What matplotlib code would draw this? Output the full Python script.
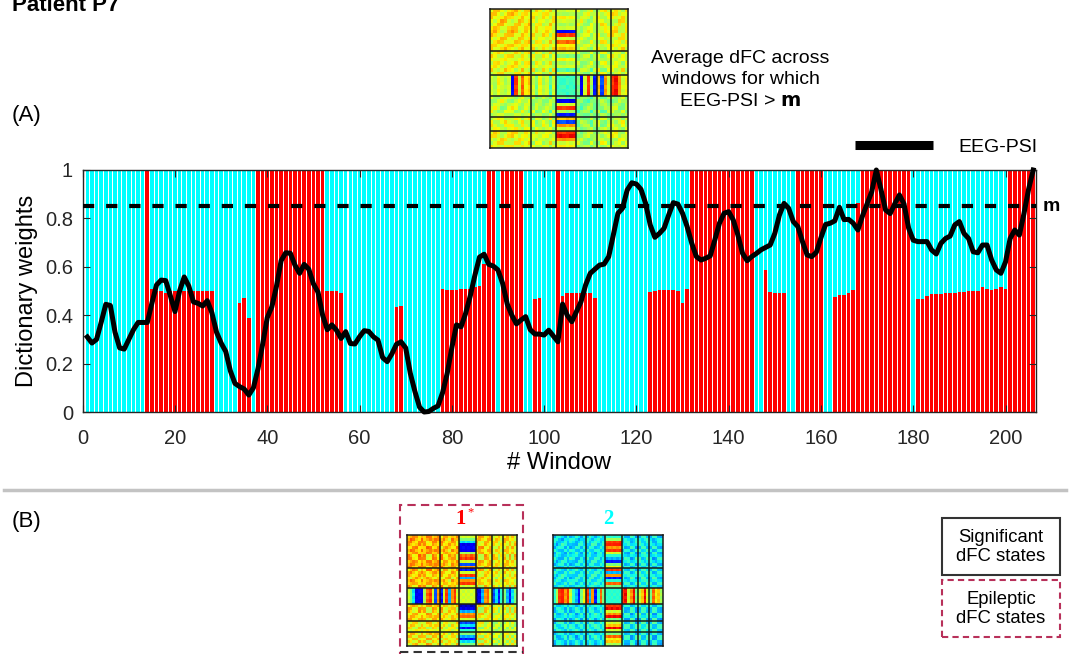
import numpy as np
import matplotlib.pyplot as plt
from matplotlib.lines import Line2D
from matplotlib.patches import Rectangle

plt.rcParams['font.family'] = ['Liberation Sans', 'DejaVu Sans']

W, H = 1073, 654

# weight of dFC state 1 (red) for each window; state 2 (cyan) takes the rest
state1 = [0, 0, 0, 0, 0, 0, 0, 0, 0, 0,
          0, 0, 0, 1.0, 0.51, 0.50, 0.50, 0.49, 0.50, 0.50,
          0.50, 0.50, 0.50, 0.50, 0.50, 0.50, 0.50, 0.50, 0, 0,
          0, 0, 0, 0.45, 0.47, 0.39, 0, 1.0, 1.0, 1.0,
          1.0, 1.0, 1.0, 1.0, 1.0, 1.0, 1.0, 1.0, 1.0, 1.0,
          1.0, 1.0, 0.50, 0.50, 0.50, 0.49, 0, 0, 0, 0,
          0, 0, 0, 0, 0, 0, 0, 0.435, 0.44, 0,
          0, 0, 0, 0, 0, 0, 0, 0.51, 0.505, 0.505,
          0.505, 0.51, 0.51, 0.51, 0.515, 0.52, 0.61, 1.0, 1.0, 0,
          1.0, 1.0, 1.0, 1.0, 1.0, 0, 0, 0.465, 0.47, 0,
          0, 0, 1.0, 0.48, 0.49, 0.49, 0.49, 0.49, 0.49, 0.49,
          0.47, 0, 0, 0, 0, 0, 0, 0, 0, 0,
          0, 0, 0.495, 0.50, 0.505, 0.505, 0.505, 0.505, 0.50, 0.45,
          0.51, 1.0, 1.0, 1.0, 1.0, 1.0, 1.0, 1.0, 1.0, 1.0,
          1.0, 1.0, 1.0, 1.0, 1.0, 0, 0, 0.585, 0.495, 0.49,
          0.49, 0.49, 0, 0, 1.0, 1.0, 1.0, 1.0, 1.0, 1.0,
          0, 0, 0.475, 0.485, 0.485, 0.49, 0.505, 0.865, 1.0, 1.0,
          1.0, 1.0, 1.0, 1.0, 1.0, 1.0, 1.0, 1.0, 1.0, 0,
          0.465, 0.465, 0.48, 0.487, 0.487, 0.487, 0.49, 0.49, 0.49, 0.495,
          0.497, 0.50, 0.50, 0.50, 0.515, 0.508, 0.505, 0.508, 0.515, 0.508,
          1.0, 1.0, 1.0, 1.0, 1.0, 1.0]

# EEG-PSI per window (normalised)
eeg_psi = [0.31, 0.285, 0.30, 0.37, 0.445, 0.44, 0.33, 0.265, 0.26, 0.30,
           0.34, 0.37, 0.37, 0.37, 0.45, 0.525, 0.545, 0.543, 0.48, 0.415,
           0.50, 0.558, 0.52, 0.455, 0.449, 0.438, 0.46, 0.41, 0.33, 0.285,
           0.25, 0.17, 0.118, 0.105, 0.095, 0.07, 0.10, 0.18, 0.28, 0.39,
           0.435, 0.52, 0.625, 0.658, 0.656, 0.607, 0.573, 0.61, 0.59, 0.53,
           0.495, 0.40, 0.34, 0.36, 0.338, 0.304, 0.332, 0.283, 0.281, 0.311,
           0.336, 0.333, 0.311, 0.297, 0.225, 0.208, 0.24, 0.28, 0.29, 0.265,
           0.16, 0.085, 0.02, 0.0, 0.002, 0.015, 0.025, 0.08, 0.16, 0.265,
           0.36, 0.352, 0.408, 0.48, 0.565, 0.64, 0.652, 0.61, 0.603, 0.587,
           0.532, 0.447, 0.40, 0.364, 0.38, 0.394, 0.34, 0.322, 0.322, 0.318,
           0.338, 0.314, 0.29, 0.446, 0.40, 0.373, 0.414, 0.456, 0.525, 0.573,
           0.59, 0.607, 0.611, 0.642, 0.731, 0.821, 0.842, 0.917, 0.947, 0.942,
           0.92, 0.862, 0.773, 0.722, 0.738, 0.759, 0.814, 0.865, 0.859, 0.821,
           0.766, 0.697, 0.642, 0.628, 0.635, 0.645, 0.711, 0.78, 0.821, 0.828,
           0.793, 0.731, 0.656, 0.625, 0.642, 0.655, 0.67, 0.68, 0.69, 0.738,
           0.814, 0.862, 0.842, 0.787, 0.766, 0.704, 0.649, 0.642, 0.66, 0.72,
           0.775, 0.78, 0.79, 0.846, 0.795, 0.796, 0.78, 0.752, 0.81, 0.86,
           0.91, 1.0, 0.92, 0.835, 0.82, 0.86, 0.897, 0.86, 0.76, 0.71,
           0.704, 0.704, 0.704, 0.669, 0.653, 0.697, 0.717, 0.727, 0.773, 0.787,
           0.738, 0.717, 0.662, 0.658, 0.69, 0.69, 0.628, 0.587, 0.573, 0.62,
           0.717, 0.752, 0.731, 0.82, 0.92, 1.0]

m_thr = 0.85
x_ticks = [0, 20, 40, 60, 80, 100, 120, 140, 160, 180, 200]
y_ticks = [0, 0.2, 0.4, 0.6, 0.8, 1]
y_ticklabels = ['0', '0.2', '0.4', '0.6', '0.8', '1']

# dFC matrices (colour level 0..1 on jet): network boundaries, network levels,
# each node's coupling to network 3 and two node-wise texture profiles
net_bounds = [0, 12, 19, 25, 31, 35, 40]

avg_blocks = [0.66, 0.6, 0.42, 0.5, 0.56, 0.6]
avg_hub = [0.6, 0.55, 0.65, 0.6, 0.55, 0.6, 0.12, 0.85, 0.6, 0.8, 0.65, 0.7,
           0.6, 0.5, 0.65, 0.55, 0.6, 0.45, 0.6,
           0.42, 0.4, 0.45, 0.42, 0.4, 0.42,
           0.5, 0.1, 0.6, 0.85, 0.55, 0.15,
           0.7, 0.2, 0.75, 0.6,
           0.85, 0.9, 0.75, 0.6, 0.65]
avg_ta = [0.9, 0.4, -0.6, -1, 0.2, 0.8, 1, -0.3, -0.8, 0.5, 0.1, -0.9,
          0.7, -0.2, -0.5, 0.9, 0.6, -1, 0.3,
          -0.4, 0.6, 0.2, -0.7, 0.5, -0.1,
          -0.8, -0.3, 0.7, 1, -0.6, 0.2,
          0.5, -1, -0.4, 0.8,
          1, 0.3, -0.7, 0.4, -0.2]
avg_tb = [-0.3, 0.8, 0.5, -0.6, -1, 0.2, 0.7, 0.9, -0.4, -0.8, 0.6, 0.3,
          -0.7, 1, 0.1, -0.5, 0.4, 0.8, -0.9,
          0.5, -0.3, -0.8, 0.6, 0.2, 0.9,
          0.4, -0.9, -0.2, 0.6, 1, -0.5,
          -0.7, 0.3, 0.9, -0.1,
          0.2, 0.8, -0.5, -1, 0.6]

s1_blocks = [0.72, 0.68, 0.6, 0.64, 0.56, 0.6]
s1_hub = [0.6, 0.5, 0.35, 0.1, 0.12, 0.1, 0.55, 0.8, 0.85, 0.6, 0.2, 0.75,
          0.15, 0.6, 0.85, 0.3, 0.75, 0.85, 0.6,
          0.62, 0.6, 0.62, 0.6, 0.62, 0.6,
          0.05, 0.1, 0.3, 0.75, 0.8, 0.6,
          0.2, 0.35, 0.15, 0.4,
          0.5, 0.3, 0.15, 0.35, 0.5]
s1_ta = [0.6, 1, -0.2, -0.8, 0.4, 0.9, 0.3, -1, -0.5, 0.7, 0.8, -0.3,
         1, 0.2, -0.7, -0.4, 0.9, 0.5, -0.9,
         0.3, -0.5, 0.6, -0.2, 0.4, -0.6,
         0.8, -0.6, -1, 0.4, 0.7, -0.2,
         0.5, 0.9, -0.6, -0.3,
         1, -0.4, 0.6, -0.8, 0.2]
s1_tb = [-0.4, 0.6, 0.9, 0.2, -0.9, 0.5, -0.6, 0.7, 1, -0.3, 0.4, 0.8,
         -0.5, 0.9, 0.3, -1, 0.6, -0.2, 0.7,
         -0.4, 0.6, -0.3, 0.5, -0.6, 0.2,
         -0.2, 1, 0.5, -0.8, 0.3, 0.9,
         -0.7, 0.4, 0.8, -0.5,
         0.3, 0.9, -0.6, 0.5, -1]

s2_blocks = [0.35, 0.38, 0.4, 0.36, 0.4, 0.35]
s2_hub = [0.4, 0.55, 0.85, 0.88, 0.75, 0.85, 0.6, 0.4, 0.3, 0.15, 0.5, 0.65,
          0.85, 0.3, 0.75, 0.15, 0.4, 0.8, 0.5,
          0.4, 0.38, 0.4, 0.42, 0.4, 0.38,
          0.85, 0.9, 0.6, 0.75, 0.9, 0.5,
          0.6, 0.7, 0.9, 0.6,
          0.5, 0.8, 0.65, 0.7, 0.55]
s2_ta = [-0.8, -0.3, 0.6, 1, -0.5, 0.2, -1, -0.6, 0.4, 0.9, -0.2, 0.5,
         -0.9, 0.3, 0.8, -0.4, -0.7, 0.6, 0.1,
         0.5, -0.4, 0.3, -0.6, 0.4, -0.5,
         0.6, -0.8, -0.3, 0.9, 0.4, -1,
         -0.5, 0.7, 0.2, -0.9,
         -0.3, 1, 0.5, -0.6, -0.8]
s2_tb = [0.5, -0.9, -0.4, 0.6, 0.8, -0.7, 0.3, -0.2, -1, 0.4, 0.9, -0.5,
         0.2, -0.8, 0.6, 1, -0.3, -0.6, 0.7,
         -0.5, 0.3, -0.6, 0.4, -0.2, 0.6,
         -0.4, 0.5, 0.9, -0.7, -0.2, 0.8,
         1, -0.4, -0.8, 0.3,
         0.7, -0.5, -0.9, 0.4, 0.6]


def dfc_matrix(blocks, hub, ta, tb, amp):
    n = net_bounds[-1]
    net = np.zeros(n, dtype=int)
    for b in range(len(net_bounds) - 1):
        net[net_bounds[b]:net_bounds[b + 1]] = b
    blocks = np.asarray(blocks)
    hub = np.asarray(hub)
    ta = np.asarray(ta)
    tb = np.asarray(tb)
    speck = (np.outer(ta, tb) + np.outer(tb, ta)) / 2
    mat = (blocks[net][:, None] + blocks[net][None, :]) / 2 + amp * speck
    in3 = net == 2
    mat[:, in3] = hub[:, None] + 0.35 * amp * speck[:, in3]
    mat[in3, :] = hub[None, :] + 0.35 * amp * speck[in3, :]
    mat[np.ix_(in3, in3)] = blocks[2] + 0.5 * amp * speck[np.ix_(in3, in3)]
    return np.clip(mat, 0, 1)


def draw_matrix(rect, mat):
    mx = fig.add_axes([rect[0] / W, 1 - (rect[1] + rect[3]) / H, rect[2] / W, rect[3] / H])
    mx.imshow(mat, cmap='jet', vmin=0, vmax=1, interpolation='nearest', aspect='auto')
    for b in net_bounds[1:-1]:
        mx.axhline(b - 0.5, color='#1a1a1a', lw=1.1)
        mx.axvline(b - 0.5, color='#1a1a1a', lw=1.1)
    mx.set_xticks([])
    mx.set_yticks([])
    for s in mx.spines.values():
        s.set_linewidth(1.1)
        s.set_color('#1a1a1a')
    return mx


fig = plt.figure(figsize=(W / 100, H / 100), dpi=100)

# ---- panel A: dictionary weights per window
x0, x1, ytop, ybot = 82.7, 1035.5, 170, 412
ax = fig.add_axes([x0 / W, 1 - ybot / H, (x1 - x0) / W, (ybot - ytop) / H])
windows = np.arange(1, len(state1) + 1)
s1 = np.array(state1)
ax.bar(windows, s1, width=0.78, color='#ff0000', linewidth=0)
ax.bar(windows, 1 - s1, bottom=s1, width=0.78, color='#00ffff', linewidth=0)
psi_line, = ax.plot(windows, eeg_psi, color='black', lw=3.6, label='EEG-PSI',
                    solid_joinstyle='round', clip_on=False, zorder=5)
ax.axhline(m_thr, color='black', lw=3.0, dashes=(2.7, 2.85), zorder=4)
ax.text(1.007, m_thr, 'm', transform=ax.get_yaxis_transform(), fontsize=14,
        fontweight='bold', va='center', ha='left')

ax.set_xlim(0, 206.5)
ax.set_ylim(0, 1)
ax.set_xticks(x_ticks)
ax.set_yticks(y_ticks)
ax.set_yticklabels(y_ticklabels)
ax.tick_params(direction='in', top=True, right=True, labelsize=14.5, length=5,
               width=0.8, colors='#262626', labelcolor='#262626')
ax.tick_params(axis='x', pad=12)
ax.tick_params(axis='y', pad=7)
for s in ax.spines.values():
    s.set_linewidth(1.0)
    s.set_color('#262626')
ax.set_xlabel('# Window', fontsize=17, labelpad=3)
ax.set_ylabel('Dictionary weights', fontsize=17, labelpad=5)

leg = ax.legend(handles=[psi_line], loc='center right',
                bbox_to_anchor=(1045 / W, 1 - 147 / H), bbox_transform=fig.transFigure,
                frameon=False, fontsize=14, handlelength=4.0, handletextpad=1.3,
                borderaxespad=0)
leg.get_lines()[0].set_linewidth(6.5)
leg.get_lines()[0].set_solid_capstyle('butt')

# ---- titles and annotations
fig.text(12 / W, 1 - 11 / H, 'Patient P7', fontsize=16, fontweight='bold', va='baseline')
fig.text(12 / W, 1 - 116 / H, '(A)', fontsize=16, va='center')
fig.text(12 / W, 1 - 521 / H, '(B)', fontsize=16, va='center')
fig.text(740 / W, 1 - 80 / H, 'Average dFC across\nwindows for which\nEEG-PSI > $\\mathbf{m}$',
         fontsize=14, ha='center', va='center', linespacing=1.32)

draw_matrix((490, 9, 138, 139), dfc_matrix(avg_blocks, avg_hub, avg_ta, avg_tb, 0.15))

fig.add_artist(Line2D([4 / W, 1066 / W], [1 - 490 / H] * 2, color='#c3c3c3', lw=2.5))

# ---- panel B: dFC states
draw_matrix((407, 535, 110, 111), dfc_matrix(s1_blocks, s1_hub, s1_ta, s1_tb, 0.17))
draw_matrix((553, 535, 110, 111), dfc_matrix(s2_blocks, s2_hub, s2_ta, s2_tb, 0.15))

epi = '#b8305a'
fig.add_artist(Rectangle((400 / W, -0.05), 123 / W, 1 - 505 / H + 0.05, fill=False,
                         ec=epi, lw=1.5, ls=(0, (4, 2.5))))
fig.add_artist(Line2D([400 / W, 523 / W], [1 - 652 / H] * 2, color='#333333', lw=1.5,
                      ls=(0, (4, 2.5))))
fig.text(461 / W, 1 - 519 / H, '1', color='#ff0000', fontsize=15, fontweight='bold',
         family='Liberation Serif', ha='center', va='center')
fig.text(467 / W, 1 - 512 / H, '*', color='#ff0000', fontsize=9,
         family='Liberation Serif', ha='left', va='center')
fig.text(608 / W, 1 - 519 / H, '2', color='#00ffff', fontsize=15, fontweight='bold',
         family='Liberation Serif', ha='center', va='center')

fig.add_artist(Rectangle((942 / W, 1 - 575 / H), 118 / W, 57 / H, fill=False,
                         ec='#333333', lw=1.5))
fig.text(1001 / W, 1 - 547 / H, 'Significant\ndFC states', fontsize=13.3,
         ha='center', va='center', linespacing=1.15)
fig.add_artist(Rectangle((942 / W, 1 - 637 / H), 118 / W, 57 / H, fill=False,
                         ec=epi, lw=1.5, ls=(0, (3, 2))))
fig.text(1001 / W, 1 - 609 / H, 'Epileptic\ndFC states', fontsize=13.3,
         ha='center', va='center', linespacing=1.15)

fig.savefig('out.png', dpi=100)
